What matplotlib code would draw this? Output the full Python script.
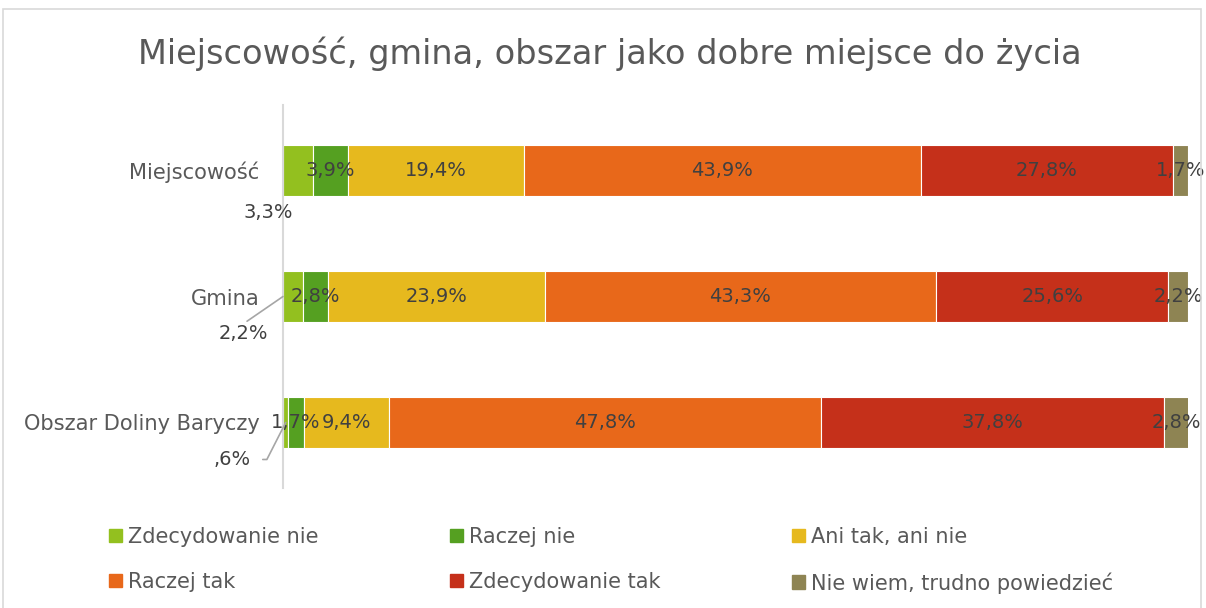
import matplotlib.pyplot as plt
from matplotlib.patches import Patch, Rectangle

categories = ['Miejscowość', 'Gmina', 'Obszar Doliny Baryczy']
series = ['Zdecydowanie nie', 'Raczej nie', 'Ani tak, ani nie',
          'Raczej tak', 'Zdecydowanie tak', 'Nie wiem, trudno powiedzieć']
zdecydowanie_nie = [3.3, 2.2, 0.6]
raczej_nie = [3.9, 2.8, 1.7]
ani_tak_ani_nie = [19.4, 23.9, 9.4]
raczej_tak = [43.9, 43.3, 47.8]
zdecydowanie_tak = [27.8, 25.6, 37.8]
nie_wiem = [1.7, 2.2, 2.8]
colors = ['#93C01F', '#55A021', '#E6B91E', '#E8681A', '#C5301A', '#8E8453']

values = [zdecydowanie_nie, raczej_nie, ani_tak_ani_nie,
          raczej_tak, zdecydowanie_tak, nie_wiem]


def fmt(v):
    s = f'{v:.1f}'.replace('.', ',')
    if s.startswith('0'):
        s = s[1:]
    return s + '%'


fig = plt.figure(figsize=(12.06, 6.08), dpi=100)
ax = fig.add_axes([283 / 1206, 1 - 488 / 608, 905 / 1206, 383 / 608])

y = list(range(len(categories)))
left = [0.0] * len(categories)
for k, vals in enumerate(values):
    ax.barh(y, vals, left=left, height=0.4, color=colors[k],
            edgecolor='white', linewidth=0.8, label=series[k])
    if k > 0:
        for i, v in enumerate(vals):
            ax.text(left[i] + v / 2, y[i], fmt(v), ha='center', va='center',
                    fontsize=14, color='#404040')
    left = [a + b for a, b in zip(left, vals)]

# small first segments labelled outside
lc = '#A6A6A6'
v = zdecydowanie_nie
ax.annotate(fmt(v[0]), xy=(v[0] / 2, 0), xytext=(-30, -42),
            textcoords='offset pixels', ha='center', va='center',
            fontsize=14, color='#404040')
ax.annotate(fmt(v[1]), xy=(0, 1), xytext=(-40, -37),
            textcoords='offset pixels', ha='center', va='center',
            fontsize=14, color='#404040',
            arrowprops=dict(arrowstyle='-', color=lc, lw=1.2,
                            relpos=(0.5, 1), shrinkA=0, shrinkB=0))
ax.annotate(fmt(v[2]), xy=(v[2] / 2, 2), xytext=(-54, -37),
            textcoords='offset pixels', ha='center', va='center',
            fontsize=14, color='#404040',
            arrowprops=dict(arrowstyle='-', color=lc, lw=1.2,
                            relpos=(1, 0.5), shrinkA=7, shrinkB=0,
                            connectionstyle='angle,angleA=0,angleB=63,rad=0'))

ax.set_xlim(0, 100)
ax.set_ylim(2.52, -0.52)
ax.set_yticks(y)
ax.set_yticklabels(categories, fontsize=15.1, color='#595959')
ax.tick_params(axis='y', length=0, pad=17)
ax.xaxis.set_visible(False)
for s in ['top', 'right', 'bottom']:
    ax.spines[s].set_visible(False)
ax.spines['left'].set_color('#D9D9D9')
ax.spines['left'].set_linewidth(1.5)

fig.text(610 / 1206, 1 - 54 / 608, 'Miejscowość, gmina, obszar jako dobre miejsce do życia',
         ha='center', va='center', fontsize=24.2, color='#595959')

handles = [Patch(color=c) for c in colors]
order = [0, 3, 1, 4, 2, 5]
fig.legend([handles[i] for i in order], [series[i] for i in order],
           ncol=3, loc='upper left', bbox_to_anchor=(109 / 1206, 1 - 527 / 608),
           frameon=False, fontsize=15, labelcolor='#595959',
           handlelength=0.62, handleheight=0.62, handletextpad=0.3,
           columnspacing=6.3, labelspacing=1.2, borderpad=0, borderaxespad=0)

fig.patches.append(Rectangle((3 / 1206, -0.05), 1198 / 1206, 1.05 - 9 / 608,
                             transform=fig.transFigure, fill=False,
                             edgecolor='#D9D9D9', linewidth=1.2))

fig.savefig('out.png', dpi=100)
